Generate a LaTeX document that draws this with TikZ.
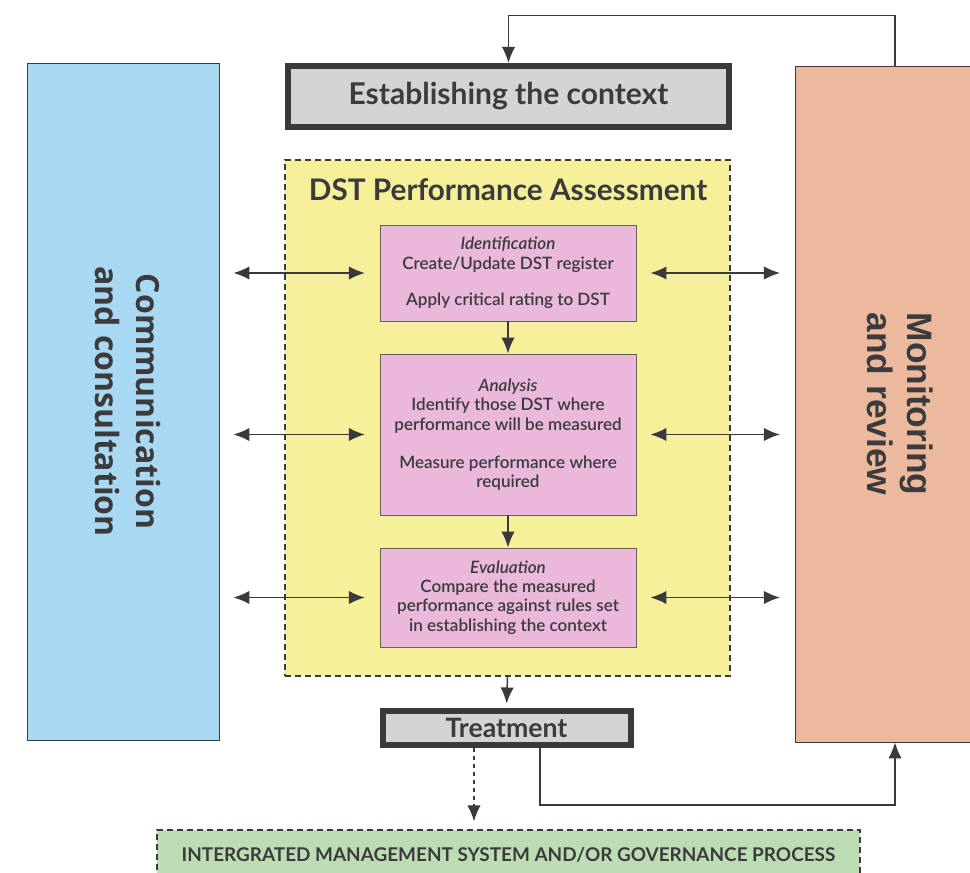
\documentclass[tikz,border=0pt]{standalone}
\usepackage{fontspec}
\setmainfont{Lato}
\newfontfamily\semifont{Lato}[UprightFont={* Semibold},ItalicFont={* Semibold Italic}]
\newfontfamily\commfont{Open Sans}
\newfontfamily\monfont{Liberation Sans}
\usetikzlibrary{arrows.meta,positioning}

\definecolor{txtgrey}{HTML}{3B3B3D}
\definecolor{linegrey}{HTML}{3A3A3A}
\definecolor{commblue}{HTML}{A9D9F2}
\definecolor{monorange}{HTML}{EDB99C}
\definecolor{dstyellow}{HTML}{F6F09A}
\definecolor{steppink}{HTML}{E9B8DA}
\definecolor{ctxgrey}{HTML}{D4D4D4}
\definecolor{imsgreen}{HTML}{BCDDB3}

\begin{document}
\begin{tikzpicture}
        [x=0.75pt,y=-0.75pt,
         text=txtgrey,
         side/.style={draw=linegrey,line width=0.6pt,minimum width=144pt,minimum height=507.75pt},
         heavybox/.style={draw=linegrey,line width=4.5pt,fill=ctxgrey,inner sep=0pt},
         frame/.style={draw=linegrey,dash pattern=on 4.5pt off 3pt,line width=0.9pt},
         stepbox/.style={draw=linegrey!80,line width=0.7pt,fill=steppink,minimum width=192pt,
           align=center,font=\semifont\fontsize{12.8}{14.5}\selectfont},
         headtip/.tip={Latex[length=12pt,width=10pt]},
         arr/.style={draw=linegrey,line width=1.1pt,-headtip},
         dbl/.style={draw=linegrey,line width=1.1pt,headtip-headtip}]
        \useasboundingbox[fill=white] (0,0) rectangle (970,873);

        % side columns
        \node[side,fill=commblue] (comm) at (123,401.5)
          {\rotatebox{-90}{\commfont\bfseries\fontsize{24}{26}\selectfont
           \begin{tabular}{c}Communication\\[5pt]and consultation\end{tabular}}};
        \node[side,fill=monorange,minimum width=150pt,minimum height=507pt] (mon) at (895,404)
          {\rotatebox{-90}{\monfont\bfseries\fontsize{26.5}{27}\selectfont
           \begin{tabular}{c}Monitoring\\[3pt]and review\end{tabular}}};

        % context and treatment
        \node[heavybox,minimum width=330.75pt,minimum height=45.75pt,
              font=\bfseries\fontsize{22.5}{24}\selectfont] (ctx) at (508.5,96.5) {Establishing the context};

        % assessment frame
        \node[frame,fill=dstyellow,minimum width=333.75pt,minimum height=387pt] (dst) at (507.5,418) {};
        \node[font=\bfseries\fontsize{22.3}{24}\selectfont] (dsttitle) at (508,190) {DST Performance Assessment};

        \node[stepbox,minimum height=72pt] (ident) at (508,273)
          {\textit{Identification}\\Create/Update DST register\\[13pt]Apply critical rating to DST};
        \node[stepbox,minimum height=120.75pt] (analysis) at (508,434.5)
          {\textit{Analysis}\\Identify those DST where\\performance will be measured\\[14pt]Measure performance where\\required};
        \node[stepbox,minimum height=74.25pt] (eval) at (508,597.5)
          {\textit{Evaluation}\\Compare the measured\\performance against rules set\\in establishing the context};

        \node[heavybox,minimum width=186pt,minimum height=25.5pt,
              font=\bfseries\fontsize{20}{22}\selectfont] (treat) at (506.5,727.5) {Treatment};

        \node[frame,fill=imsgreen,minimum width=527.25pt,
              minimum height=37.5pt,font=\bfseries\fontsize{14.2}{16}\selectfont] (ims) at (508.5,855)
          {INTERGRATED MANAGEMENT SYSTEM AND/OR GOVERNANCE PROCESS};

        % flow down the middle
        \draw[arr] (ident) -- (analysis);
        \draw[arr] (analysis) -- (eval);
        \draw[arr,shorten >=3pt] (dst.south) -- (treat.north);

        % links out to the side columns
        \foreach \s in {ident,analysis,eval}
        {\draw[dbl] ([xshift=10.5pt]comm.east |- \s.west) -- ([xshift=-11pt]\s.west);
         \draw[dbl] ([xshift=10.5pt]\s.east) -- ([xshift=-11pt]mon.west |- \s.east);}

        % feedback loops
        \draw[arr] (mon.north) -- ++(0,-50) -| (ctx.north);
        \coordinate (fb) at (540,805);
        \draw[arr] (treat.south -| fb) -- (fb) -| (mon.south);
        \coordinate (imsx) at (474,0);
        \draw[arr,dashed,shorten >=6pt] (treat.south -| imsx) -- (ims.north -| imsx);
      \end{tikzpicture}
\end{document}
